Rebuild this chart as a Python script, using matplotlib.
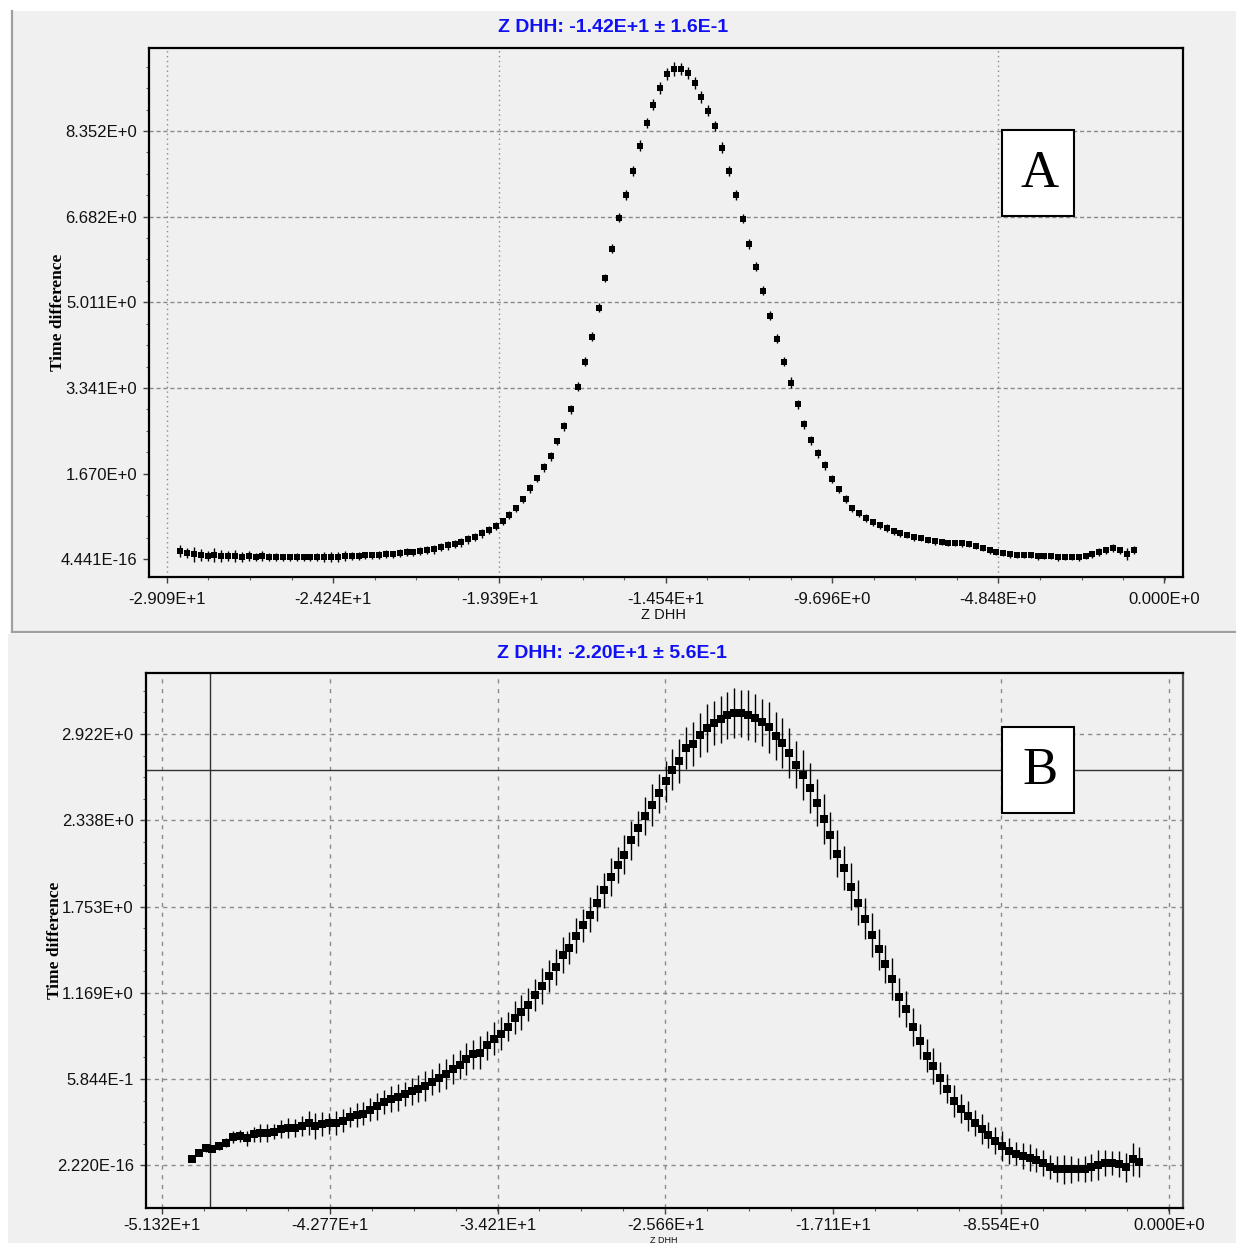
import matplotlib
matplotlib.use("Agg")
import matplotlib.pyplot as plt
import numpy as np
from matplotlib.patches import Rectangle
from matplotlib.lines import Line2D
from matplotlib.ticker import FixedLocator

# ---------------- Panel A data ----------------
TITLE_A = "Z DHH: -1.42E+1 \u00b1 1.6E-1"
XA = [-28.7,-28.5,-28.3,-28.1,-27.9,-27.7,-27.5,-27.3,-27.1,-26.9,
      -26.7,-26.5,-26.3,-26.1,-25.9,-25.7,-25.5,-25.3,-25.1,-24.9,
      -24.7,-24.5,-24.3,-24.1,-23.9,-23.7,-23.5,-23.3,-23.1,-22.9,
      -22.7,-22.5,-22.3,-22.1,-21.9,-21.7,-21.5,-21.3,-21.1,-20.9,
      -20.7,-20.5,-20.3,-20.1,-19.9,-19.7,-19.5,-19.3,-19.1,-18.9,
      -18.7,-18.5,-18.3,-18.1,-17.9,-17.7,-17.5,-17.3,-17.1,-16.9,
      -16.7,-16.5,-16.3,-16.1,-15.9,-15.7,-15.5,-15.3,-15.1,-14.9,
      -14.7,-14.5,-14.3,-14.1,-13.9,-13.7,-13.5,-13.3,-13.1,-12.9,
      -12.7,-12.5,-12.3,-12.1,-11.9,-11.7,-11.5,-11.3,-11.1,-10.9,
      -10.7,-10.5,-10.3,-10.1,-9.9,-9.7,-9.5,-9.3,-9.1,-8.9,
      -8.7,-8.5,-8.3,-8.1,-7.9,-7.7,-7.5,-7.3,-7.1,-6.9,
      -6.7,-6.5,-6.3,-6.1,-5.9,-5.7,-5.5,-5.3,-5.1,-4.9,
      -4.7,-4.5,-4.3,-4.1,-3.9,-3.7,-3.5,-3.3,-3.1,-2.9,
      -2.7,-2.5,-2.3,-2.1,-1.9,-1.7,-1.5,-1.3,-1.1,-0.9]
YA = [0.156,0.117,0.097,0.078,0.058,0.078,0.058,0.058,0.058,0.039,
      0.058,0.039,0.058,0.039,0.039,0.039,0.039,0.039,0.039,0.039,
      0.039,0.039,0.039,0.039,0.058,0.058,0.058,0.078,0.078,0.078,
      0.097,0.097,0.117,0.136,0.136,0.156,0.175,0.195,0.234,0.273,
      0.292,0.331,0.389,0.428,0.506,0.565,0.643,0.740,0.857,0.993,
      1.168,1.382,1.577,1.791,2.005,2.298,2.590,2.921,3.368,3.855,
      4.342,4.907,5.491,6.055,6.659,7.107,7.574,8.061,8.509,8.859,
      9.190,9.463,9.560,9.560,9.482,9.287,9.015,8.742,8.450,8.022,
      7.574,7.107,6.640,6.153,5.705,5.238,4.751,4.303,3.855,3.446,
      3.018,2.628,2.317,2.064,1.830,1.558,1.363,1.168,0.993,0.896,
      0.798,0.720,0.662,0.604,0.545,0.506,0.467,0.428,0.409,0.370,
      0.350,0.331,0.312,0.312,0.312,0.292,0.253,0.214,0.175,0.136,
      0.117,0.097,0.078,0.078,0.078,0.058,0.058,0.058,0.039,0.039,
      0.039,0.039,0.058,0.097,0.136,0.175,0.214,0.175,0.097,0.175]
EA = [0.12,0.10,0.14,0.12,0.10,0.14,0.12,0.10,0.12,0.10,
      0.10,0.08,0.10,0.08,0.08,0.07,0.07,0.08,0.07,0.07,
      0.08,0.10,0.10,0.10,0.10,0.08,0.08,0.07,0.07,0.08,
      0.08,0.07,0.08,0.08,0.07,0.08,0.08,0.09,0.08,0.09,
      0.08,0.09,0.09,0.08,0.09,0.08,0.08,0.07,0.08,0.07,
      0.07,0.08,0.07,0.08,0.08,0.07,0.08,0.09,0.08,0.09,
      0.08,0.09,0.08,0.09,0.09,0.10,0.10,0.11,0.10,0.11,
      0.12,0.12,0.13,0.12,0.12,0.11,0.12,0.11,0.10,0.11,
      0.10,0.10,0.09,0.10,0.09,0.09,0.08,0.09,0.09,0.10,
      0.09,0.08,0.08,0.09,0.08,0.08,0.07,0.08,0.07,0.07,
      0.08,0.07,0.07,0.08,0.07,0.07,0.06,0.07,0.06,0.06,
      0.07,0.06,0.06,0.06,0.07,0.06,0.06,0.06,0.07,0.06,
      0.06,0.07,0.06,0.06,0.06,0.07,0.06,0.06,0.07,0.06,
      0.06,0.07,0.06,0.07,0.08,0.07,0.08,0.07,0.12,0.08]
XTICKS_A = [-29.09, -24.24, -19.39, -14.54, -9.696, -4.848, 0.0]
XTICKLABELS_A = ["-2.909E+1", "-2.424E+1", "-1.939E+1", "-1.454E+1",
                 "-9.696E+0", "-4.848E+0", "0.000E+0"]
YTICKS_A = [4.441e-16, 1.670, 3.341, 5.011, 6.682, 8.352]
YTICKLABELS_A = ["4.441E-16", "1.670E+0", "3.341E+0", "5.011E+0",
                 "6.682E+0", "8.352E+0"]

# ---------------- Panel B data ----------------
TITLE_B = "Z DHH: -2.20E+1 \u00b1 5.6E-1"
XB = [-49.80,-49.45,-49.10,-48.75,-48.40,-48.05,-47.70,-47.35,-47.00,-46.65,
      -46.30,-45.95,-45.60,-45.25,-44.90,-44.55,-44.20,-43.85,-43.50,-43.15,
      -42.80,-42.45,-42.10,-41.75,-41.40,-41.05,-40.70,-40.35,-40.00,-39.65,
      -39.30,-38.95,-38.60,-38.25,-37.90,-37.55,-37.20,-36.85,-36.50,-36.15,
      -35.80,-35.45,-35.10,-34.75,-34.40,-34.05,-33.70,-33.35,-33.00,-32.65,
      -32.30,-31.95,-31.60,-31.25,-30.90,-30.55,-30.20,-29.85,-29.50,-29.15,
      -28.80,-28.45,-28.10,-27.75,-27.40,-27.05,-26.70,-26.35,-26.00,-25.65,
      -25.30,-24.95,-24.60,-24.25,-23.90,-23.55,-23.20,-22.85,-22.50,-22.15,
      -21.80,-21.45,-21.10,-20.75,-20.40,-20.05,-19.70,-19.35,-19.00,-18.65,
      -18.30,-17.95,-17.60,-17.25,-16.90,-16.55,-16.20,-15.85,-15.50,-15.15,
      -14.80,-14.45,-14.10,-13.75,-13.40,-13.05,-12.70,-12.35,-12.00,-11.65,
      -11.30,-10.95,-10.60,-10.25,-9.90,-9.55,-9.20,-8.85,-8.50,-8.15,
      -7.80,-7.45,-7.10,-6.75,-6.40,-6.05,-5.70,-5.35,-5.00,-4.65,
      -4.30,-3.95,-3.60,-3.25,-2.90,-2.55,-2.20,-1.85,-1.50]
YB = [0.045,0.085,0.117,0.113,0.131,0.154,0.193,0.201,0.183,0.210,
      0.217,0.220,0.228,0.247,0.254,0.254,0.266,0.287,0.266,0.280,
      0.285,0.288,0.303,0.328,0.340,0.351,0.378,0.400,0.430,0.450,
      0.461,0.484,0.502,0.519,0.536,0.564,0.594,0.620,0.652,0.683,
      0.719,0.751,0.764,0.813,0.859,0.893,0.939,1.001,1.037,1.089,
      1.153,1.214,1.284,1.344,1.424,1.473,1.555,1.625,1.698,1.778,
      1.862,1.953,2.034,2.105,2.201,2.283,2.366,2.441,2.520,2.601,
      2.681,2.741,2.828,2.853,2.914,2.963,2.994,3.022,3.049,3.066,
      3.062,3.051,3.031,3.001,2.966,2.908,2.861,2.793,2.714,2.644,
      2.557,2.456,2.347,2.235,2.110,2.014,1.888,1.780,1.672,1.562,
      1.463,1.363,1.262,1.138,1.058,0.936,0.839,0.744,0.674,0.593,
      0.519,0.437,0.384,0.333,0.286,0.245,0.205,0.167,0.132,0.098,
      0.079,0.063,0.052,0.035,0.016,-0.012,-0.024,-0.027,-0.027,-0.027,
      -0.025,-0.014,0.001,0.016,0.016,0.010,-0.014,0.041,0.021]
EB = [0.02,0.02,0.03,0.02,0.03,0.03,
      0.04,0.04,0.05,0.05,0.06,0.06,0.05,
      0.06,0.07,0.06,0.07,0.08,0.09,0.08,0.07,0.08,0.08,0.07,0.08,0.08,
      0.08,0.09,0.08,0.09,0.09,0.08,0.09,0.09,0.10,0.09,0.10,0.10,0.10,0.10,0.11,
      0.10,0.11,0.10,0.11,0.11,0.10,0.11,0.12,0.11,0.11,0.12,0.11,0.12,0.12,0.11,
      0.12,0.11,0.12,0.12,0.12,0.13,0.12,0.13,0.13,0.12,0.13,0.14,0.13,0.14,0.14,
      0.15,0.14,0.15,0.15,0.16,0.15,0.16,0.16,0.17,0.16,
      0.17,0.16,0.16,0.17,0.16,0.17,0.17,0.16,0.17,0.17,
      0.16,0.17,0.16,0.16,0.15,0.16,0.15,0.14,0.15,0.14,
      0.13,0.14,0.13,0.12,0.13,0.12,0.11,0.12,0.11,0.10,
      0.11,0.10,0.10,0.09,0.10,0.09,0.09,0.10,0.09,0.08,
      0.09,0.09,0.08,0.09,0.08,0.09,0.10,0.09,0.08,0.09,
      0.09,0.10,0.09,0.08,0.09,0.10,0.11,0.10]
XTICKS_B = [-51.32, -42.77, -34.21, -25.66, -17.11, -8.554, 0.0]
XTICKLABELS_B = ["-5.132E+1", "-4.277E+1", "-3.421E+1", "-2.566E+1",
                 "-1.711E+1", "-8.554E+0", "0.000E+0"]
YTICKS_B = [2.220e-16, 0.5844, 1.169, 1.753, 2.338, 2.922]
YTICKLABELS_B = ["2.220E-16", "5.844E-1", "1.169E+0", "1.753E+0",
                 "2.338E+0", "2.922E+0"]
CURSOR_B = (-48.86, 2.675)

XLABEL = "Z DHH"
YLABEL = "Time difference"

# ---------------- Figure ----------------
W, H = 1236, 1243
fig = plt.figure(figsize=(W / 100, H / 100), dpi=100, facecolor="white")


def fx(p):
    return p / W


def fy(p):
    return 1 - p / H


def axrect(l, t, r, b):
    return [fx(l), fy(b), (r - l) / W, (b - t) / H]


PANEL = "#f0f0f0"
BORDER = "#a0a0a0"
fig.patches.append(Rectangle((fx(12), fy(632)), fx(1236) - fx(12), fy(11) - fy(632),
                             transform=fig.transFigure, facecolor=PANEL, edgecolor="none", zorder=-10))
fig.patches.append(Rectangle((fx(8), fy(1243)), fx(1236) - fx(8), fy(634) - fy(1243),
                             transform=fig.transFigure, facecolor=PANEL, edgecolor="none", zorder=-10))
fig.lines.append(Line2D([fx(11.5), fx(11.5)], [fy(11), fy(632)], transform=fig.transFigure,
                        color=BORDER, lw=1.6))
fig.lines.append(Line2D([fx(11.5), fx(1236)], [fy(632), fy(632)], transform=fig.transFigure,
                        color=BORDER, lw=1.6))

TICKFONT = ["Liberation Sans", "DejaVu Sans"]
TICKSIZE = 12
TITLE_COLOR = "#1010f4"


def style_axes(ax, xticks, xlabels, yticks, ylabels, xlim, ylim):
    ax.set_facecolor(PANEL)
    ax.set_xlim(*xlim)
    ax.set_ylim(*ylim)
    ax.set_xticks(xticks, xlabels, fontsize=TICKSIZE, family=TICKFONT)
    ax.set_yticks(yticks, ylabels, fontsize=TICKSIZE, family=TICKFONT)
    dx = (xticks[1] - xticks[0]) / 4
    dy = (yticks[1] - yticks[0]) / 4
    ax.xaxis.set_minor_locator(FixedLocator(np.arange(xticks[0], xlim[1], dx)))
    ax.yaxis.set_minor_locator(FixedLocator(np.arange(yticks[0], ylim[1], dy)))
    ax.tick_params(axis="both", which="major", direction="out", length=4, width=1,
                   color="#404040", labelcolor="#111111")
    ax.tick_params(axis="both", which="minor", direction="out", length=2.5, width=0.8,
                   color="#606060")
    ax.tick_params(axis="x", which="major", pad=7)
    ax.tick_params(axis="y", which="major", pad=5)
    for s in ax.spines.values():
        s.set_color("black")
        s.set_linewidth(1.6)


# ---------------- Panel A ----------------
axA = fig.add_axes(axrect(149.4, 47.7, 1183, 577))
style_axes(axA, XTICKS_A, XTICKLABELS_A, YTICKS_A, YTICKLABELS_A,
           (-29.597, 0.54), (-0.345, 9.973))
for yv in YTICKS_A[2:]:
    axA.axhline(yv, color="#8a8a8a", lw=1.0, dashes=(3, 2), zorder=1)
for xv in [XTICKS_A[0], XTICKS_A[2], XTICKS_A[5]]:
    axA.axvline(xv, color="#8a8a8a", lw=1.0, dashes=(1, 2.5), zorder=1)
axA.errorbar(XA, YA, yerr=EA, fmt="s", ms=4.4, mew=0, color="black",
             ecolor="black", elinewidth=1.0, capsize=0, zorder=3)

fig.text(fx(613), fy(27), TITLE_A, color=TITLE_COLOR, fontsize=14, fontweight="bold",
         family=["Liberation Sans", "DejaVu Sans"], ha="center", va="center")
fig.text(fx(664), fy(615), XLABEL, fontsize=10.5, family=TICKFONT, ha="center", va="center",
         color="#111111")
fig.text(fx(58), fy(312), YLABEL, fontsize=12.5, fontweight="bold", rotation=90,
         family=["Liberation Serif", "DejaVu Serif"], ha="center", va="center")

# ---------------- Panel B ----------------
axB = fig.add_axes(axrect(146.2, 673.3, 1183, 1208.3))
style_axes(axB, XTICKS_B, XTICKLABELS_B, YTICKS_B, YTICKLABELS_B,
           (-52.125, 0.72), (-0.291, 3.333))
axB.spines["right"].set_color("#505050")
axB.tick_params(axis="x", which="major", pad=3)
for yv in YTICKS_B:
    axB.axhline(yv, color="#8a8a8a", lw=1.0, dashes=(3, 3), zorder=1)
for xv in [XTICKS_B[0], XTICKS_B[1], XTICKS_B[2], XTICKS_B[3], XTICKS_B[5], XTICKS_B[6]]:
    axB.axvline(xv, color="#8a8a8a", lw=1.0, dashes=(3, 4), zorder=1)
axB.axvline(CURSOR_B[0], color="#303030", lw=1.0, zorder=2)
axB.axhline(CURSOR_B[1], color="#303030", lw=1.0, zorder=2)
axB.errorbar(XB, YB, yerr=EB, fmt="s", ms=5.4, mew=0, color="black",
             ecolor="black", elinewidth=1.0, capsize=0, zorder=3)

fig.text(fx(612), fy(653), TITLE_B, color=TITLE_COLOR, fontsize=14, fontweight="bold",
         family=["Liberation Sans", "DejaVu Sans"], ha="center", va="center")
fig.text(fx(664), fy(1242.8), XLABEL, fontsize=6.5, family=TICKFONT, ha="center",
         va="baseline", color="#111111")
fig.text(fx(55), fy(940), YLABEL, fontsize=12.5, fontweight="bold", rotation=90,
         family=["Liberation Serif", "DejaVu Serif"], ha="center", va="center")

# ---------------- Panel letters ----------------
for letter, top in (("A", 130), ("B", 727)):
    fig.patches.append(Rectangle((fx(1002), fy(top + 86)), fx(1074) - fx(1002), 86 / H,
                                 transform=fig.transFigure, facecolor="white",
                                 edgecolor="black", lw=1.5, zorder=20))
    fig.text(fx(1040), fy(top + 44), letter, fontsize=38,
             family=["Liberation Serif", "DejaVu Serif"], ha="center", va="center", zorder=21)

fig.savefig("out.png", dpi=100, facecolor="white")
